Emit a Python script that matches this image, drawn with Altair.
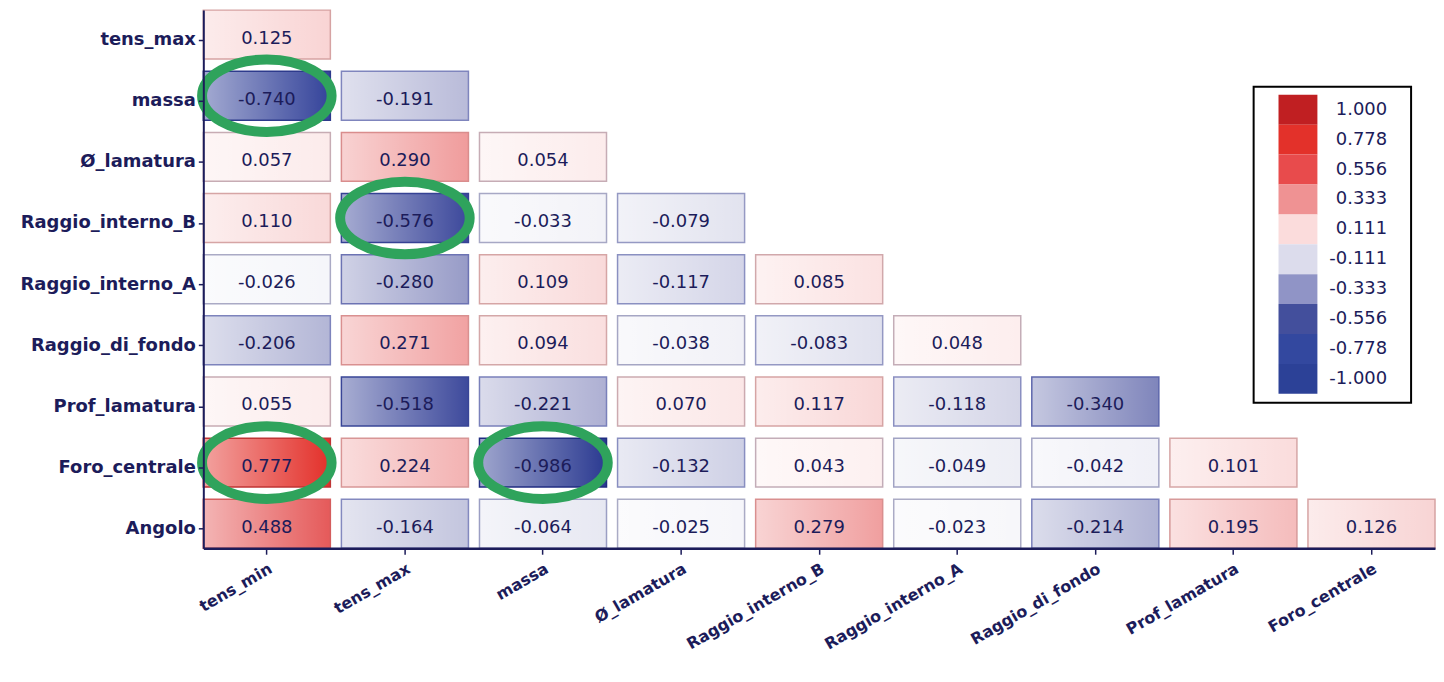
import altair as alt
import pandas as pd

# ---- data ----
rows = ["tens_max", "massa", "Ø_lamatura", "Raggio_interno_B", "Raggio_interno_A",
        "Raggio_di_fondo", "Prof_lamatura", "Foro_centrale", "Angolo"]
cols = ["tens_min", "tens_max", "massa", "Ø_lamatura", "Raggio_interno_B",
        "Raggio_interno_A", "Raggio_di_fondo", "Prof_lamatura", "Foro_centrale"]

r_tens_max = [0.125]
r_massa = [-0.740, -0.191]
r_lamatura = [0.057, 0.290, 0.054]
r_raggio_b = [0.110, -0.576, -0.033, -0.079]
r_raggio_a = [-0.026, -0.280, 0.109, -0.117, 0.085]
r_fondo = [-0.206, 0.271, 0.094, -0.038, -0.083, 0.048]
r_prof = [0.055, -0.518, -0.221, 0.070, 0.117, -0.118, -0.340]
r_foro = [0.777, 0.224, -0.986, -0.132, 0.043, -0.049, -0.042, 0.101]
r_angolo = [0.488, -0.164, -0.064, -0.025, 0.279, -0.023, -0.214, 0.195, 0.126]

highlight_rows = ["massa", "Raggio_interno_B", "Foro_centrale", "Foro_centrale"]
highlight_cols = ["tens_min", "tens_max", "tens_min", "massa"]

legend_labels = ["1.000", "0.778", "0.556", "0.333", "0.111",
                 "-0.111", "-0.333", "-0.556", "-0.778", "-1.000"]
legend_colors = ["#c01f22", "#e3312a", "#e84b4c", "#ef9293", "#fbdcdc",
                 "#dcdcec", "#9094c6", "#434f9c", "#33489f", "#2c4197"]

# ---- tables ----
all_rows = [r_tens_max, r_massa, r_lamatura, r_raggio_b, r_raggio_a,
            r_fondo, r_prof, r_foro, r_angolo]
recs = []
for rname, vals in zip(rows, all_rows):
    for cname, v in zip(cols, vals):
        recs.append({"row": rname, "col": cname, "r": v, "lab": f"{v:.3f}"})
df = pd.DataFrame(recs)
hl_df = pd.DataFrame({"row": highlight_rows, "col": highlight_cols})
leg_df = pd.DataFrame({"lab": legend_labels, "idx": list(range(len(legend_labels)))})
frame_df = pd.DataFrame({"k": [0]})

# ---- styles ----
NAVY = "#1c1c5a"
FONT = "DejaVu Sans"

fill_scale = alt.Scale(domain=[-1, -0.74, -0.5, -0.25, 0, 0.25, 0.5, 0.78, 1],
                       range=["#2a3a90", "#34439a", "#3f4b9c", "#a3a6cd", "#ffffff",
                              "#f2a9a9", "#e45656", "#e3302a", "#c01f1f"],
                       interpolate="rgb")
stroke_scale = alt.Scale(domain=[-1, -0.5, -0.2, -0.1, 0, 0.1, 0.3, 0.5, 1],
                         range=["#1f2c80", "#3a4698", "#7e84bd", "#8d92c2", "#b4b3c6",
                                "#d6a6a6", "#d98c8c", "#d45a5a", "#b01818"],
                         interpolate="rgb")


def xenc():
    return alt.X("col:N", sort=cols,
                 scale=alt.Scale(domain=cols, paddingInner=0.08, paddingOuter=0),
                 axis=alt.Axis(title=None, labelAngle=330, labelAlign="right",
                               labelBaseline="top", labelFont=FONT, labelFontSize=16,
                               labelFontWeight="bold", labelColor=NAVY, labelPadding=6,
                               domainColor=NAVY, domainWidth=2.5, tickColor=NAVY,
                               tickSize=6, tickWidth=1.5, grid=False, labelLimit=300))


def yenc():
    return alt.Y("row:N", sort=rows,
                 scale=alt.Scale(domain=rows, paddingInner=0.2, paddingOuter=0),
                 axis=alt.Axis(title=None, labelFont=FONT, labelFontSize=18,
                               labelFontWeight="bold", labelColor=NAVY, labelPadding=3,
                               domainColor=NAVY, domainWidth=2, tickColor=NAVY,
                               tickSize=5, tickWidth=1.5, tickOffset=5, grid=False,
                               minExtent=196, maxExtent=196, labelLimit=300))


shade_gradient = alt.LinearGradient(
    gradient="linear",
    stops=[alt.GradientStop(color="rgba(255,255,255,0.55)", offset=0),
           alt.GradientStop(color="rgba(255,255,255,0)", offset=1)],
    x1=0, x2=1, y1=0, y2=0)

base = alt.Chart(df).encode(x=xenc(), y=yenc())

cells = base.mark_rect().encode(
    fill=alt.Fill("r:Q", scale=fill_scale, legend=None))

shade = base.mark_rect(fill=shade_gradient, strokeWidth=1.5).encode(
    stroke=alt.Stroke("r:Q", scale=stroke_scale, legend=None))

texts = base.mark_text(font=FONT, fontSize=18, color=NAVY, dy=4).encode(
    text="lab:N")

ellipse_path = ("M-1,0 C-1,-0.309 -0.552,-0.56 0,-0.56 C0.552,-0.56 1,-0.309 1,0 "
                "C1,0.309 0.552,0.56 0,0.56 C-0.552,0.56 -1,0.309 -1,0 Z")
ellipses = alt.Chart(hl_df).mark_point(
    shape=ellipse_path, size=16900, strokeWidth=10, color="#2fa35c",
    filled=False, opacity=1).encode(x=xenc(), y=yenc())

main = alt.layer(cells, shade, texts, ellipses)

# ---- colour key (drawn in its own box, top right of the plot) ----
lx = alt.Scale(domain=[0, 1], range=[1054, 1212], nice=False, zero=False)
ly = alt.Scale(domain=[0, 10], range=[85, 385], nice=False, zero=False)

key_frame = alt.Chart(frame_df).mark_rect(
    fill="white", stroke="black", strokeWidth=2).encode(
    x=alt.X(datum=0, type="quantitative", scale=lx, axis=None),
    x2=alt.X2(datum=1),
    y=alt.Y(datum=-0.27, type="quantitative", scale=ly, axis=None),
    y2=alt.Y2(datum=10.3))

key_base = alt.Chart(leg_df).transform_calculate(
    y0="datum.idx", y1="datum.idx + 1", ym="datum.idx + 0.5")

key_blocks = key_base.mark_rect().encode(
    x=alt.X(datum=0.158, type="quantitative", scale=lx, axis=None),
    x2=alt.X2(datum=0.405),
    y=alt.Y("y0:Q", scale=ly, axis=None),
    y2="y1:Q",
    color=alt.Color("lab:N", scale=alt.Scale(domain=legend_labels, range=legend_colors),
                    legend=None))

key_labels = key_base.mark_text(font=FONT, fontSize=18, color=NAVY, align="right",
                                baseline="middle").encode(
    x=alt.X(datum=0.848, type="quantitative", scale=lx, axis=None),
    y=alt.Y("ym:Q", scale=ly, axis=None),
    text="lab:N")

key = alt.layer(key_frame, key_blocks, key_labels)

chart = alt.layer(main, key).resolve_scale(
    x="independent", y="independent"
).properties(width=1236, height=540, padding=0).configure_view(strokeWidth=0)

chart.save("out.html", embed_options={"renderer": "svg", "actions": False})
